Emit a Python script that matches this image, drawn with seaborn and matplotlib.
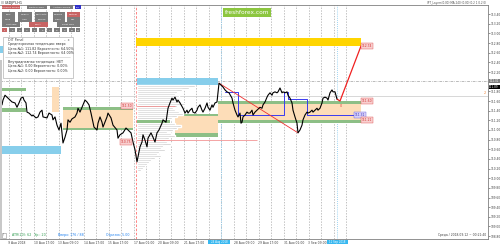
import numpy as np
import pandas as pd
import matplotlib
matplotlib.use("Agg")
import matplotlib.pyplot as plt
import seaborn as sns
from matplotlib.patches import Rectangle

sns.set_theme(style="white")
plt.rcParams['font.family'] = ['DejaVu Sans']

# ---------------- data ----------------
bars = [2,3,5,8,12,15,17,19,21,23,24,26,27,29,32,33,36,38,40,42,43,47,49,52,53,55,57,59,61,63,
        65,67,68,70,72,75,77,78,80,83,85,87,89,91,93,94,97,98,100,102,103,107,108,111,113,117,118,120,123,126,
        128,131,133,135,137,138,140,142,143,145,147,148,151,153,155,157,159,162,163,166,168,170,
        172,173,175,177,178,180,183,185,187,188,190,192,193,195,197,198,200,202,203,205,
        207,208,210,212,213,215,217,218,219,221,223,225,227,229,232,233,235,237,238,240,
        241,242,243,245,247,248,250,252,253,255,257,259,
        260,262,263,265,267,268,270,272,273,275,277,278,280,282,283,285,287,288,290,292,
        293,295,297,298,300,302,303,305,307,308,310,312,313,315,317,318,320,322,323,325,
        327,328,330,332,333,335,337]
prices = [111.52,111.62,111.72,111.66,111.58,111.56,111.47,111.56,111.66,111.68,
          111.62,111.56,111.37,111.35,111.29,111.31,111.25,111.27,111.37,111.41,
          111.27,111.25,111.35,111.31,111.21,111.27,111.10,111.00,111.14,110.73,
          110.85,111.00,111.21,111.16,111.23,111.27,111.35,111.45,111.37,111.52,
          111.62,111.58,111.52,111.35,111.16,111.06,111.00,111.14,111.27,111.16,
          111.06,111.27,111.35,111.25,111.10,111.00,110.83,110.90,110.94,111.04,
          111.00,110.94,110.75,110.59,110.34,110.44,110.65,110.75,110.90,110.79,
          110.65,110.83,110.94,110.85,110.75,110.94,111.00,111.14,111.21,111.16,
          111.45,111.56,
          111.66,111.62,111.68,111.58,111.62,111.56,111.45,111.35,111.41,111.35,
          111.41,111.45,111.37,111.35,111.41,111.47,111.52,111.41,111.37,111.45,
          111.56,111.47,111.41,111.52,111.47,111.56,111.58,111.77,111.97,111.93,
          111.89,111.83,111.79,111.77,111.66,111.56,111.41,111.31,111.27,111.35,
          111.14,111.16,111.27,111.31,111.37,111.35,111.35,111.41,111.31,111.37,
          111.41,111.45,
          111.47,111.45,111.52,111.58,111.68,111.72,111.77,111.72,111.77,111.79,
          111.77,111.79,111.87,111.77,111.79,111.77,111.79,111.72,111.66,111.56,
          111.41,111.27,111.14,110.94,111.00,111.10,111.21,111.31,111.37,111.35,
          111.37,111.41,111.37,111.41,111.45,111.41,111.45,111.56,111.66,111.68,
          111.66,111.62,111.77,111.83,111.79,111.79,111.64]

zigzag_bars = [219, 298]
zigzag_prices = [111.97, 110.94]
forecast_bars = [337, 340, 361]
forecast_prices = [111.64, 111.60, 112.74]

step_bars = [225, 238, 238, 284, 284, 288, 288, 307, 307, 355]
step_prices = [111.79, 111.79, 111.31, 111.31, 111.79, 111.79, 111.64, 111.64, 111.31, 111.31]

# zones
zone_x0 = [63, 175, 218]
zone_x1 = [133, 218, 361]
zone_top = [111.47, 111.33, 111.60]
zone_phi = [111.41, 111.29, 111.54]
zone_plo = [111.04, 110.94, 111.21]
zone_bot = [111.00, 110.85, 111.14]

target_box = (136, 361, 112.74, 112.90)
blue_boxes = [(0, 61, 110.50, 110.67), (137, 218, 111.93, 112.07)]
left_greens = [(0, 26, 111.81, 111.87), (0, 26, 111.37, 111.45)]
peach_strip = (52, 59, 111.37, 111.89)
poc_box = (137, 170, 111.14, 111.21)

profile_prices = [111.91,111.87,111.83,111.79,111.75,111.70,111.66,111.62,111.58,111.54,111.50,111.46,
                  111.41,111.37,111.33,111.29,111.25,111.12,111.08,111.04,111.00,110.96,110.92,110.88,
                  110.83,110.79,110.75,110.71,110.67,110.63,110.59,110.54,110.50,110.46,110.42,110.38,
                  110.34,110.30,110.25,110.21,110.17]
profile_len = [58,52,45,40,38,42,36,40,44,48,40,36,38,42,46,40,35,38,44,40,36,30,34,38,
               32,28,30,34,26,24,28,22,20,24,18,14,12,10,8,6,4]
profile_start = 137

red_levels = [(136, 175, 111.50), (136, 257, 110.79)]
bid_price = 111.70
dashdot_price = 112.01

grid_bars = [8.5 + 12.5 * k for k in range(28)]
date_bars = [8.5, 33.5, 58.5, 83.5, 108.5, 133.5, 158.5, 183.5, 233.5, 258.5, 283.5, 308.5]
date_labels = ["9 Aug 2018", "10 Aug 17:00", "13 Aug 09:00", "14 Aug 17:00", "15 Aug 17:00",
               "17 Aug 01:00", "20 Aug 09:00", "21 Aug 17:00", "28 Aug 09:00",
               "29 Aug 17:00", "31 Aug 01:00", "3 Sep 09:00"]
y_ticks = [round(108.8 + 0.2 * i, 1) for i in range(24)]
y_tick_labels = [("" if v in (112.0,) else f"{v:.2f}") for v in y_ticks]

chart_tags = [(362, 112.74, "112.74", '#F8D0D0', '#E05050', '#D03030'),
              (362, 111.60, "111.60", '#F8D0D0', '#E05050', '#D03030'),
              (355, 111.31, "111.31", '#D8D0F8', '#6060E0', '#3030C0'),
              (362, 111.21, "111.21", '#F8D0D0', '#E05050', '#D03030'),
              (122, 111.50, "111.50", '#F8D0D0', '#E05050', '#D03030'),
              (121, 110.75, "110.75", '#F8D0D0', '#E05050', '#D03030')]

# ---------------- figure ----------------
fig = plt.figure(figsize=(5, 2.44), dpi=100)
fig.patch.set_facecolor('white')
ax = fig.add_axes([0, 5 / 244, 488 / 500, 234 / 244])
ax.set_xlim(0, 488)
ax.set_ylim(108.74, 113.59)
ax.set_facecolor('white')

ax.vlines(grid_bars, 108.74, 113.59, colors='#A8A8A8', linestyles=(0, (2, 2)), linewidth=0.5, zorder=0.5)
ax.axvline(136, color='#FF7070', linestyle=(0, (3, 2)), linewidth=0.6, zorder=0.6)
ax.axvline(221, color='#80C8F0', linestyle=(0, (1, 1.5)), linewidth=0.6, zorder=0.6)
ax.axvline(337, color='#80C8F0', linestyle=(0, (1, 1.5)), linewidth=0.6, zorder=0.6)

ax.axhline(bid_price, color='#C8C8C8', linewidth=0.5, zorder=0.6)
ax.axhline(dashdot_price, color='#A0A0A0', linestyle=(0, (4, 1.5, 1, 1.5)), linewidth=0.5, zorder=0.6)

def rect(x0, x1, y0, y1, color, z=1, alpha=1.0):
    ax.add_patch(Rectangle((x0, y0), x1 - x0, y1 - y0, facecolor=color, edgecolor='none', zorder=z, alpha=alpha))

for x0, x1, t, ph, pl, b in zip(zone_x0, zone_x1, zone_top, zone_phi, zone_plo, zone_bot):
    rect(x0, x1, pl, ph, '#FDDDB8')
    rect(x0, x1, ph, t, '#8DBF86')
    rect(x0, x1, b, pl, '#8DBF86')

rect(target_box[0], target_box[1], target_box[2], target_box[3], '#FFD500')
for b in blue_boxes:
    rect(b[0], b[1], b[2], b[3], '#87CEEB')
for g in left_greens:
    rect(g[0], g[1], g[2], g[3], '#8DBF86')
rect(peach_strip[0], peach_strip[1], peach_strip[2], peach_strip[3], '#FDDDB8')

ax.barh(profile_prices, profile_len, height=0.032, left=profile_start, color='#C4C4C4', zorder=1.2)
rect(poc_box[0], poc_box[1], poc_box[2], poc_box[3], '#8DBF86', z=1.3)

for x0, x1, y in red_levels:
    ax.hlines(y, x0, x1, colors='#F08080', linewidth=0.5, zorder=1.5)

ax.plot(step_bars, step_prices, color='#3A3AF0', linewidth=0.7, zorder=2)
ax.plot(zigzag_bars, zigzag_prices, color='#F03030', linewidth=0.6, zorder=2.5)
ax.plot(forecast_bars, forecast_prices, color='#F02020', linewidth=0.9, zorder=2.5)

df = pd.DataFrame({"bar": bars, "price": prices})
sns.lineplot(data=df, x="bar", y="price", ax=ax, color='black', linewidth=0.8,
             estimator=None, sort=False, zorder=3)

for x, y, txt, fc, ec, tc in chart_tags:
    ax.text(x, y, txt, fontsize=2.2, color=tc, va='center', ha='left', zorder=4,
            bbox=dict(boxstyle='square,pad=0.25', facecolor=fc, edgecolor=ec, linewidth=0.3))
ax.text(340, 111.47, "0", fontsize=2.5, color='#E04040', zorder=4)
ax.text(486, 111.75, "2", fontsize=2.5, color='#F08030', ha='right', zorder=4)

ax.set_xlabel(""); ax.set_ylabel("")
ax.yaxis.tick_right()
ax.set_yticks(y_ticks)
ax.set_yticklabels(y_tick_labels)
ax.set_xticks(date_bars)
ax.set_xticklabels(date_labels)
ax.tick_params(axis='y', labelsize=2.1, length=1.2, width=0.4, pad=0.4, colors='#404040')
ax.tick_params(axis='x', labelsize=2.2, length=1.0, width=0.4, pad=0.5, colors='#404040')
for lab in ax.get_xticklabels():
    lab.set_horizontalalignment('left')
for s in ax.spines.values():
    s.set_color('#808080'); s.set_linewidth(0.6)
ax.spines['left'].set_visible(False)

# ---------------- overlay (terminal UI) ----------------
ov = fig.add_axes([0, 0, 1, 1], zorder=10)
ov.set_xlim(0, 500); ov.set_ylim(244, 0); ov.axis('off'); ov.patch.set_alpha(0)

def box(x, y, w, h, fc, ec='none', lw=0.3, z=10):
    ov.add_patch(Rectangle((x, y), w, h, facecolor=fc, edgecolor=ec, linewidth=lw, zorder=z))

box(0, 60, 2, 179, '#C8C8C8', z=5)
box(0, 46, 2.5, 7, '#87CEEB', z=5)

ov.text(5, 2.6, "USDJPY,H1", fontsize=2.4, color='#202020', va='center')
box(1, 1, 3, 3, '#D0D0D0')
ov.text(486, 3, "IPT_Layers(0.00) MA 240 (0.00)(0.2 1 0.2 0)", fontsize=2.0, color='#505050', ha='right', va='center')

red_btn = '#C86464'; gray_btn = '#7C7C7C'
buttons = [(1.7, 5, 18.3, "Volume Profile", red_btn), (26.7, 5, 20, "Delta Profile", gray_btn),
           (50, 5, 22.7, "Auction Profile", gray_btn), (75, 5, 6, "Б.1", '#3030C8'),
           (1.7, 12.3, 13.3, "Bars", gray_btn), (18.3, 12.3, 13.3, "Weekly", gray_btn),
           (35, 12.3, 13.3, "Contracts", gray_btn), (52.7, 12.3, 12.3, "Volume", gray_btn),
           (66.7, 12.3, 13.3, "Custom", red_btn),
           (1.7, 17.3, 13.3, "Fixed", gray_btn), (18.3, 17.3, 13.3, "Area", gray_btn),
           (35, 17.3, 13.3, "Europe", gray_btn), (52.7, 17.3, 12.3, "Tokyo", gray_btn),
           (66.7, 17.3, 13.3, "Diff", gray_btn),
           (1.7, 22.3, 18.3, "Left Side", gray_btn), (29, 22.3, 19, "Chart", red_btn),
           (57, 22.3, 23, "Right Side", gray_btn)]
for x, y, w, t, c in buttons:
    box(x, y, w, 4.2, c)
    ov.text(x + w / 2, y + 2.2, t, fontsize=1.7, color='white', ha='center', va='center', zorder=11)
small_x = [1.7, 9.3, 16.7, 24, 31.7, 39.3, 46.7, 54, 61.7, 69.3, 76]
for i, x in enumerate(small_x):
    w = 5.6 if i < 10 else 4
    box(x, 28, w, 4.2, red_btn if i == 0 else gray_btn)
    ov.text(x + w / 2, 30.2, str(i + 1), fontsize=1.7, color='white', ha='center', va='center', zorder=11)

box(2.7, 36.7, 70, 41, 'white', ec='#B4B4B4', lw=0.5)
ov.text(8, 39.6, "DIT Panel", fontsize=2.3, color='#404040', va='center', zorder=11)
ov.text(70, 39.6, "–  x", fontsize=2.3, color='#606060', va='center', ha='right', zorder=11)
panel_lines = [(44.5, "Среднесрочная тенденция: вверх"),
               (48.8, "Цель №1: 111.82 Вероятность: 64.50%"),
               (53.0, "Цель №2: 112.74 Вероятность: 64.00%"),
               (62.0, "Внутридневная тенденция: НЕТ"),
               (66.5, "Цель №1: 0.00 Вероятность: 0.00%"),
               (70.8, "Цель №2: 0.00 Вероятность: 0.00%")]
for y, t in panel_lines:
    ov.text(8, y, t, fontsize=2.3, color='#303030', va='center', zorder=11)
ov.plot([5, 70], [57, 57], color='#C8C8C8', linewidth=0.4, zorder=11)

box(223, 8, 48, 8.5, '#8CC63F')
ov.text(247, 12.3, "freshforex.com", fontsize=4.2, color='white', ha='center', va='center', zorder=11)

box(2, 232.5, 3.5, 5, 'white', ec='#909090', lw=0.4)
ov.text(3.7, 235, "!", fontsize=2, color='#404040', ha='center', va='center', zorder=11)
ov.text(12, 235, "ATR(20): 62   Ур.: 20", fontsize=2.3, color='#2E9B4E', va='center', zorder=11)
ov.text(58, 235, "Вверх: 176 / 88", fontsize=2.3, color='#1E80F0', va='center', zorder=11)
ov.text(106, 235, "Отрезок: 5.00", fontsize=2.3, color='#1E80F0', va='center', zorder=11)
ov.text(486, 235, "Среда / 2018.09.12 ~ 00:21:40", fontsize=2.2, color='#404040', ha='right', va='center', zorder=11)

box(208, 239.6, 22, 4.2, '#38B8F0')
ov.text(219, 241.7, "24 Aug 2018", fontsize=1.9, color='white', ha='center', va='center', zorder=11)
box(327, 239.6, 21, 4.2, '#38B8F0')
ov.text(337.5, 241.7, "11 Sep 2018", fontsize=1.9, color='white', ha='center', va='center', zorder=11)
box(488.5, 79, 11.5, 4, '#808080')
ov.text(494, 81, "112.01", fontsize=2.0, color='white', ha='center', va='center', zorder=11)
box(488.5, 85, 11.5, 4, '#000000')
ov.text(494, 87, "111.89", fontsize=2.0, color='white', ha='center', va='center', zorder=11)

fig.savefig("out.png", dpi=100, facecolor='white')
